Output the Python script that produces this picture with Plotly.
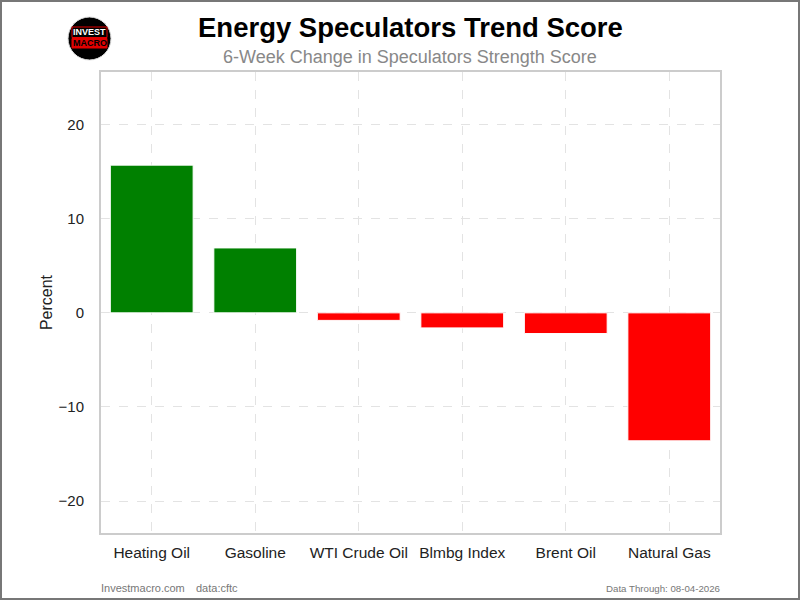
import plotly.graph_objects as go

# data
markets = ["Heating Oil", "Gasoline", "WTI Crude Oil", "Blmbg Index", "Brent Oil", "Natural Gas"]
trend_score = [15.7, 6.9, -0.8, -1.6, -2.2, -13.6]
y_ticks = [-20, -10, 0, 10, 20]

title_text = "Energy Speculators Trend Score"
subtitle_text = "6-Week Change in Speculators Strength Score"
data_through = "Data Through: 08-04-2026"

font = "Liberation Sans, Arial, sans-serif"
colors = ["green" if v >= 0 else "red" for v in trend_score]

# plot area in pixels
L, R, T, B = 101, 720, 72, 533


def px_x(p):
    return (p - L) / (R - L)


def px_y(p):
    return (B - p) / (B - T)


fig = go.Figure(
    data=[go.Bar(x=markets, y=trend_score,
                 marker=dict(color=colors, line=dict(color="white", width=1)),
                 width=0.8)],
    layout=go.Layout(
        width=800, height=600,
        margin=dict(l=L, r=800 - R, t=T, b=600 - B),
        paper_bgcolor="white", plot_bgcolor="white",
        showlegend=False,
        font=dict(family=font, size=15, color="#222"),
        xaxis=dict(range=[-0.49, 5.49], showgrid=True, gridcolor="#e3e3e3",
                   griddash="dash", gridwidth=1, showline=True, linecolor="#cccccc",
                   linewidth=2, mirror=True, ticks="", zeroline=False,
                   ticklabelstandoff=4,
                   tickfont=dict(size=15.5, color="#222")),
        yaxis=dict(range=[-23.4, 25.6], tickvals=y_ticks, showgrid=True,
                   gridcolor="#e3e3e3", griddash="dash", gridwidth=1,
                   showline=True, linecolor="#cccccc", linewidth=2, mirror=True,
                   ticks="", zeroline=False, ticklabelstandoff=12,
                   title=dict(text="Percent", font=dict(size=16, color="#222"), standoff=2),
                   tickfont=dict(size=15, color="#222")),
    ))

# titles
fig.add_annotation(text="<b>" + title_text + "</b>", xref="paper", yref="paper",
                   x=px_x(410), y=px_y(28), showarrow=False, xanchor="center",
                   font=dict(size=27.5, color="black"), yanchor="middle")
fig.add_annotation(text=subtitle_text, xref="paper", yref="paper",
                   x=px_x(410), y=px_y(57), showarrow=False, xanchor="center",
                   font=dict(size=18, color="#888888"), yanchor="middle")

# footer
fig.add_annotation(text="Investmacro.com", xref="paper", yref="paper",
                   x=px_x(99), y=px_y(588), xanchor="left", yanchor="middle",
                   showarrow=False, font=dict(size=11, color="#777"))
fig.add_annotation(text="data:cftc", xref="paper", yref="paper",
                   x=px_x(194), y=px_y(588), xanchor="left",
                   yanchor="middle", showarrow=False, font=dict(size=11, color="#777"))
fig.add_annotation(text=data_through, xref="paper", yref="paper",
                   x=px_x(722), y=px_y(588), xanchor="right", yanchor="middle",
                   showarrow=False, font=dict(size=9.7, color="#777"))

# logo
fig.add_shape(type="circle", xref="paper", yref="paper",
              x0=px_x(68), x1=px_x(111), y0=px_y(60), y1=px_y(17),
              fillcolor="black", line=dict(color="#dddddd", width=1))
fig.add_shape(type="rect", xref="paper", yref="paper",
              x0=px_x(72), x1=px_x(107), y0=px_y(37.5), y1=px_y(27),
              fillcolor="black", line=dict(color="#e00000", width=1))
fig.add_shape(type="rect", xref="paper", yref="paper",
              x0=px_x(72), x1=px_x(107), y0=px_y(48), y1=px_y(38.5),
              fillcolor="#e00000", line=dict(color="#e00000", width=1))
fig.add_annotation(text="<b>INVEST</b>", xref="paper", yref="paper",
                   x=px_x(89.5), y=px_y(32.5), showarrow=False, xanchor="center",
                   font=dict(size=9, color="white"), yanchor="middle")
fig.add_annotation(text="<b>MACRO</b>", xref="paper", yref="paper",
                   x=px_x(89.5), y=px_y(43.5), showarrow=False, xanchor="center",
                   font=dict(size=9, color="black"), yanchor="middle")

# outer border
fig.add_shape(type="rect", xref="paper", yref="paper",
              x0=px_x(1), x1=px_x(799), y0=px_y(599), y1=px_y(1),
              line=dict(color="#777777", width=2))

fig.write_html("out.html", config={"displayModeBar": False},
               post_script="document.body.style.margin='0px';")
